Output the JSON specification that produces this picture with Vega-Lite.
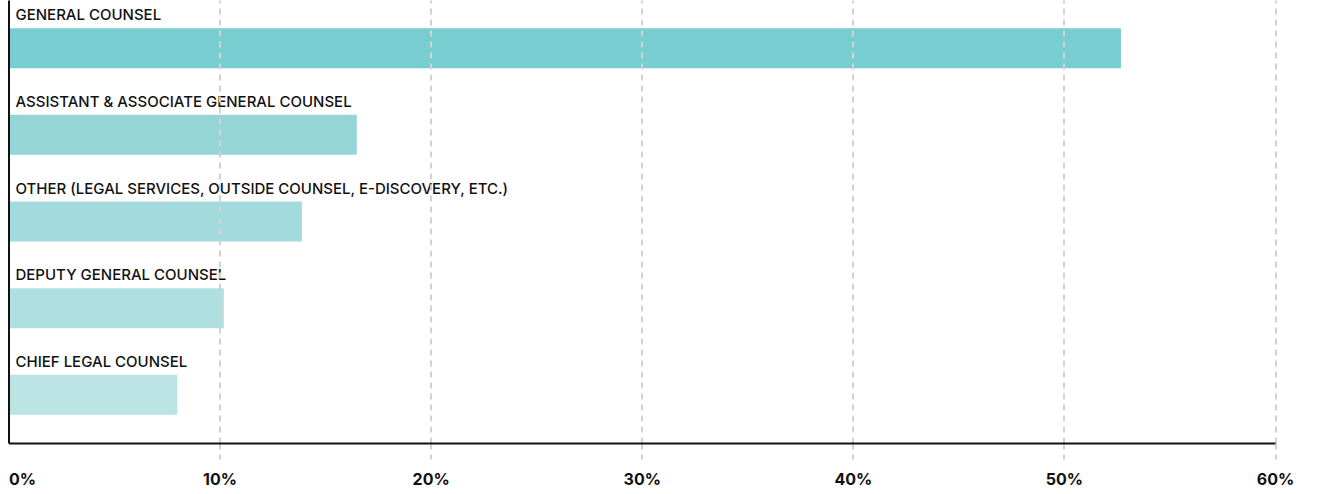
{
  "$schema": "https://vega.github.io/schema/vega-lite/v6.json",
  "width": 1266.5,
  "height": 443,
  "padding": {"left": 7.5, "top": 0, "right": 0, "bottom": 0},
  "autosize": {"type": "pad"},
  "background": "white",
  "config": {"view": {"stroke": null}},
  "data": {
    "values": [
      {"role": "GENERAL COUNSEL", "pct": 52.7},
      {"role": "ASSISTANT & ASSOCIATE GENERAL COUNSEL", "pct": 16.5},
      {"role": "OTHER (LEGAL SERVICES, OUTSIDE COUNSEL, E-DISCOVERY, ETC.)", "pct": 13.9},
      {"role": "DEPUTY GENERAL COUNSEL", "pct": 10.2},
      {"role": "CHIEF LEGAL COUNSEL", "pct": 8.0}
    ]
  },
  "encoding": {
    "y": {
      "field": "role",
      "type": "nominal",
      "sort": null,
      "scale": {"paddingInner": 0.5384, "paddingOuter": 0.3255},
      "axis": {"labels": false, "ticks": false, "title": null, "domainColor": "#111111", "domainWidth": 2, "grid": false, "zindex": 2}
    }
  },
  "layer": [
    {
      "mark": {"type": "bar"},
      "encoding": {
        "x": {
          "field": "pct",
          "type": "quantitative",
          "scale": {"domain": [0, 60], "nice": false},
          "axis": {
            "values": [0, 10, 20, 30, 40, 50, 60],
            "labelExpr": "datum.value + '%'",
            "title": null,
            "zindex": 1,
            "grid": true,
            "gridDash": [6, 5],
            "gridColor": {"condition": {"test": "datum.value === 0", "value": "transparent"}, "value": "#d2d2d2"},
            "gridWidth": 2,
            "domainColor": "#111111",
            "domainWidth": 2,
            "tickSize": 16,
            "tickWidth": 2,
            "tickDash": [6, 5],
            "tickColor": {"condition": {"test": "datum.value === 0", "value": "transparent"}, "value": "#d2d2d2"},
            "labelAlign": {"expr": "datum.value === 0 ? 'left' : 'center'"},
            "labelFont": "Inter",
            "labelFontSize": 16,
            "labelFontWeight": "bold",
            "labelColor": "#111111",
            "labelPadding": 12
          }
        },
        "color": {
          "field": "role",
          "type": "nominal",
          "sort": null,
          "scale": {"range": ["#78CDD1", "#95D5D8", "#A3DADD", "#B0DFE1", "#BCE3E4"]},
          "legend": null
        }
      }
    },
    {
      "mark": {
        "type": "text",
        "align": "left",
        "baseline": "alphabetic",
        "dx": 7,
        "dy": -28,
        "font": "Inter",
        "fontSize": 15,
        "fontWeight": 500,
        "color": "#111111"
      },
      "encoding": {
        "x": {"datum": 0},
        "text": {"field": "role"}
      }
    }
  ]
}
